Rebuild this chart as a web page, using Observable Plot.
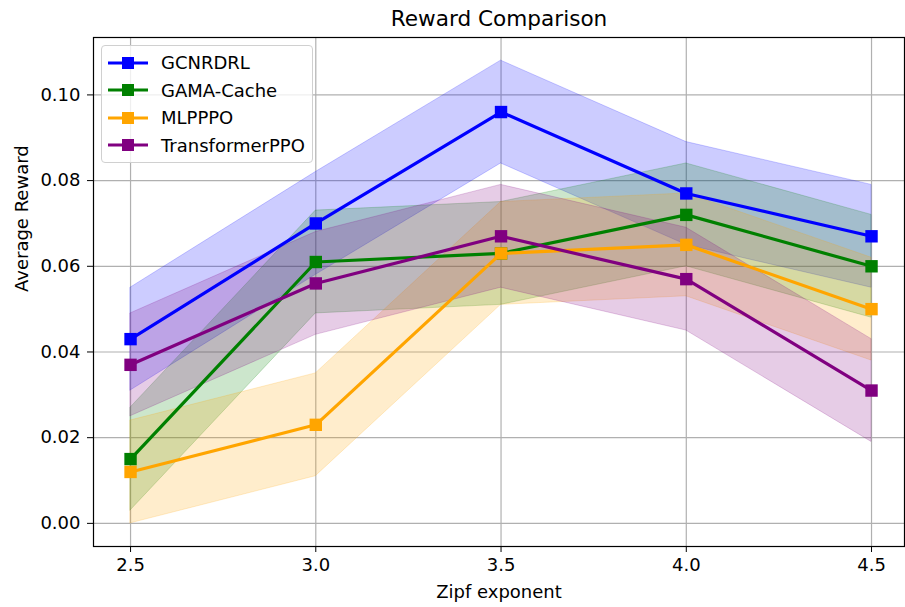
<!DOCTYPE html>
<html>
<head>
<meta charset="utf-8">
<script src="https://cdn.jsdelivr.net/npm/d3@7"></script>
<script src="https://cdn.jsdelivr.net/npm/@observablehq/plot@0.6"></script>
<style>
  html, body { margin: 0; padding: 0; background: #fff; }
  #wrap { position: relative; width: 905px; height: 607px; font-family: "DejaVu Sans", sans-serif; }
  #legend {
    position: absolute; left: 101px; top: 45px; width: 212px; height: 118px;
    border: 1px solid #d0d0d0; border-radius: 4px; background: rgba(255,255,255,0.8);
    box-sizing: border-box; padding-top: 3px;
  }
  .entry { display: flex; align-items: center; height: 27.5px; font-size: 18px; color: #000; }
  .entry svg { margin-left: 6px; margin-right: 13px; }
</style>
</head>
<body>
<div id="wrap"><div id="legend"></div></div>
<script>
// Zipf exponents on the x axis
const zipf = [2.5, 3.0, 3.5, 4.0, 4.5];

// Mean reward per method
const gcnrdrl        = [0.043, 0.070, 0.096, 0.077, 0.067];
const gamaCache      = [0.015, 0.061, 0.063, 0.072, 0.060];
const mlpppo         = [0.012, 0.023, 0.063, 0.065, 0.050];
const transformerPPO = [0.037, 0.056, 0.067, 0.057, 0.031];

// Standard deviation per method (shaded band = mean ± std)
const gcnrdrlStd        = [0.012, 0.012, 0.012, 0.012, 0.012];
const gamaCacheStd      = [0.012, 0.012, 0.012, 0.012, 0.012];
const mlpppoStd         = [0.012, 0.012, 0.012, 0.012, 0.012];
const transformerPPOStd = [0.012, 0.012, 0.012, 0.012, 0.012];

const seriesNames  = ["GCNRDRL", "GAMA-Cache", "MLPPPO", "TransformerPPO"];
const seriesColors = ["#0000ff", "#008000", "#ffa500", "#800080"];

const xTicks = [2.5, 3.0, 3.5, 4.0, 4.5];
const yTicks = [0.00, 0.02, 0.04, 0.06, 0.08, 0.10];

const means = [gcnrdrl, gamaCache, mlpppo, transformerPPO];
const stds  = [gcnrdrlStd, gamaCacheStd, mlpppoStd, transformerPPOStd];

const rows = seriesNames.flatMap((name, i) =>
  zipf.map((x, j) => ({
    series: name, x, y: means[i][j],
    lo: means[i][j] - stds[i][j], hi: means[i][j] + stds[i][j]
  }))
);

const color = { domain: seriesNames, range: seriesColors };

const bands = seriesNames.map(name =>
  Plot.areaY(rows.filter(d => d.series === name), {
    x: "x", y1: "lo", y2: "hi", fill: "series", fillOpacity: 0.2,
    stroke: "series", strokeOpacity: 0.2, strokeWidth: 1
  })
);
const lines = seriesNames.map(name => [
  Plot.line(rows.filter(d => d.series === name), {
    x: "x", y: "y", stroke: "series", strokeWidth: 3.2
  }),
  Plot.dot(rows.filter(d => d.series === name), {
    x: "x", y: "y", fill: "series", symbol: "square", r: 7, stroke: null
  })
]);

const chart = Plot.plot({
  width: 905,
  height: 607,
  marginLeft: 93,
  marginRight: 1,
  marginTop: 37,
  marginBottom: 61,
  style: { fontFamily: "DejaVu Sans, sans-serif", fontSize: "18px", color: "#000", background: "#fff" },
  x: { domain: [2.4, 4.589] },
  y: { domain: [-0.0054, 0.1134] },
  color,
  marks: [
    Plot.gridX(xTicks, { stroke: "#b0b0b0", strokeOpacity: 1, strokeWidth: 1.2 }),
    Plot.gridY(yTicks, { stroke: "#b0b0b0", strokeOpacity: 1, strokeWidth: 1.2 }),
    ...bands,
    ...lines.flat(),
    Plot.frame({ stroke: "#000", strokeWidth: 1.2 }),
    Plot.axisX(xTicks, { tickFormat: d3.format(".1f"), tickSize: 6, tickPadding: 6, label: null, fontSize: 18 }),
    Plot.axisY(yTicks, { tickFormat: d3.format(".2f"), tickSize: 6, tickPadding: 7, label: null, fontSize: 18 }),
    Plot.text(["Reward Comparison"], { frameAnchor: "top", lineAnchor: "middle", dy: -18, fontSize: 21.6 }),
    Plot.text(["Zipf exponent"], { frameAnchor: "bottom", lineAnchor: "middle", dy: 46, fontSize: 18 }),
    Plot.text(["Average Reward"], { frameAnchor: "left", dx: -71, rotate: -90, fontSize: 18 })
  ]
});

const wrap = document.getElementById("wrap");
wrap.insertBefore(chart, wrap.firstChild);

// Legend entries: line sample with square marker, then the method name
const legend = document.getElementById("legend");
seriesNames.forEach((name, i) => {
  const c = seriesColors[i];
  const el = document.createElement("div");
  el.className = "entry";
  el.innerHTML =
    `<svg width="40" height="16"><line x1="0" y1="8" x2="40" y2="8" stroke="${c}" stroke-width="3.2"/>` +
    `<rect x="14" y="2" width="12" height="12" fill="${c}"/></svg><span>${name}</span>`;
  legend.appendChild(el);
});
</script>
</body>
</html>
